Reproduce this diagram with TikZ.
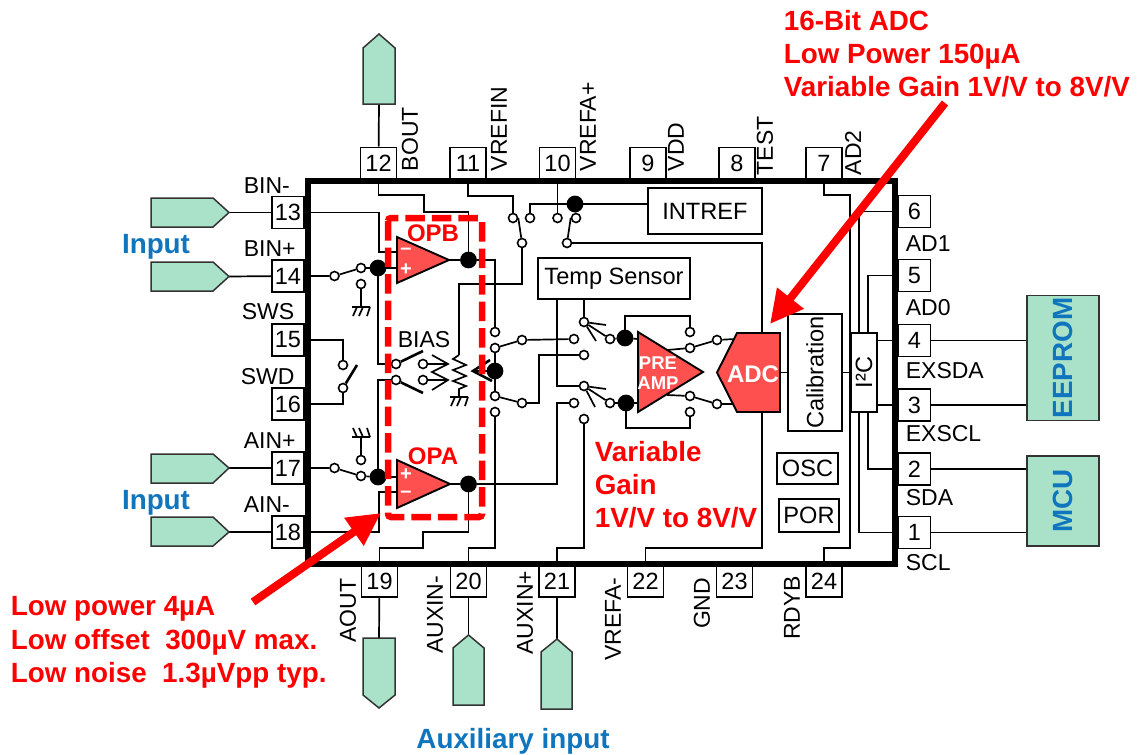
\documentclass[tikz,border=0pt]{standalone}
\usepackage{fontspec}
\setmainfont{Liberation Sans}
\usetikzlibrary{arrows.meta}
\definecolor{tagfill}{HTML}{A9E2C8}
\definecolor{tagline}{HTML}{333333}
\definecolor{opfill}{HTML}{FF5050}
\definecolor{noteblue}{HTML}{0F75BD}
\begin{document}
\begin{tikzpicture}[x=1pt, y=-1pt, line width=1.7pt,
  chipframe/.style={rectangle, draw, line width=6.5pt, inner sep=0, minimum width=587pt, minimum height=383pt},
  pinv/.style={rectangle, draw, fill=white, inner sep=0, minimum width=36pt, minimum height=31pt, font=\fontsize{23.5}{27}\selectfont},
  pinh/.style={rectangle, draw, fill=white, inner sep=0, minimum width=32pt, minimum height=32pt, font=\fontsize{23.5}{27}\selectfont},
  block/.style={rectangle, draw, fill=white, inner sep=0, font=\fontsize{23.6}{27}\selectfont},
  sidebox/.style={rectangle, draw=tagline, fill=tagfill, inner sep=0, text=noteblue, font=\fontsize{27.8}{33}\selectfont\bfseries},
  plain/.style={inner sep=0, font=\fontsize{23}{27}\selectfont},
  uplabel/.style={plain, rotate=90, anchor=west},
  downlabel/.style={plain, rotate=90, anchor=east},
  bluenote/.style={inner sep=0, text=noteblue, font=\fontsize{27.8}{33}\selectfont\bfseries},
  rednote/.style={inner sep=0, anchor=base west, text=red, font=\fontsize{27.8}{33}\selectfont\bfseries},
  oplabel/.style={inner sep=0, text=red, font=\fontsize{24}{27}\selectfont\bfseries},
  whitelabel/.style={inner sep=0, text=white, font=\fontsize{18.5}{22}\selectfont\bfseries},
  signlabel/.style={inner sep=0, text=white, font=\fontsize{20}{20}\selectfont\bfseries},
  blade/.style={line width=2.6pt},
  tag/.style={draw=tagline, fill=tagfill, line width=1.5pt},
  amp/.style={draw, fill=opfill, line width=1.9pt, line join=miter},
  bigarrow/.style={draw=red, line width=8pt, -{Triangle[length=33pt, width=32pt]}},
  groundmark/.pic={\draw (-9,0) -- (9,0) (-4,0) -- (-8,9) (2,0) -- (-2,9) (9,0) -- (6,9);}]
\def\swpoint{node [circle, draw, fill=white, inner sep=0, minimum size=9pt, line width=1.6pt] }
\def\jpoint{node [circle, draw, fill, inner sep=0, minimum size=15pt] }
\useasboundingbox (0,0) rectangle (1138,755);

% package and pins
\node [chipframe] (chip) at (601.5,372.5) {};
\node [pinv] (pin12) at (378.5,163) {12};
\node [pinv] (pin11) at (468,163) {11};
\node [pinv] (pin10) at (557.5,163) {10};
\node [pinv] (pin9) at (648,163) {9};
\node [pinv] (pin8) at (737,163) {8};
\node [pinv] (pin7) at (824,163) {7};
\node [pinh] (pin6) at (914.5,211.5) {6};
\node [pinh] (pin5) at (914.5,275.5) {5};
\node [pinh] (pin4) at (914.5,340.5) {4};
\node [pinh] (pin3) at (914.5,405) {3};
\node [pinh] (pin2) at (914.5,469) {2};
\node [pinh] (pin1) at (914.5,532.5) {1};
\node [pinh] (pin13) at (288,212.5) {13};
\node [pinh] (pin14) at (288,276) {14};
\node [pinh] (pin15) at (288,340) {15};
\node [pinh] (pin16) at (288,404) {16};
\node [pinh] (pin17) at (288,468) {17};
\node [pinh] (pin18) at (288,532) {18};
\node [pinv] (pin19) at (379.5,581.5) {19};
\node [pinv] (pin20) at (468.5,581.5) {20};
\node [pinv] (pin21) at (557,581.5) {21};
\node [pinv] (pin22) at (645.5,581.5) {22};
\node [pinv] (pin23) at (734.5,581.5) {23};
\node [pinv] (pin24) at (824,581.5) {24};

\node [uplabel] (lbout) at (410,172) {BOUT};
\node [uplabel] (lvrefin) at (499,172) {VREFIN};
\node [uplabel] (lvrefap) at (588,172) {VREFA+};
\node [uplabel] (lvdd) at (676,172) {VDD};
\node [uplabel] (ltest) at (765,176) {TEST};
\node [uplabel] (lad2) at (853,176) {AD2};
\node [plain, anchor=west] (lad1) at (905,244) {AD1};
\node [plain, anchor=west] (lad0) at (905,308) {AD0};
\node [plain, anchor=west] (lexsda) at (905,371) {EXSDA};
\node [plain, anchor=west] (lexscl) at (905,434) {EXSCL};
\node [plain, anchor=west] (lsda) at (905,498) {SDA};
\node [plain, anchor=west] (lscl) at (905,563) {SCL};
\node [plain, anchor=west] (lbinm) at (243,186) {BIN-};
\node [plain, anchor=west] (lbinp) at (243,249) {BIN+};
\node [plain, anchor=west] (lsws) at (241,312) {SWS};
\node [plain, anchor=west] (lswd) at (240,377) {SWD};
\node [plain, anchor=west] (lainp) at (243,441) {AIN+};
\node [plain, anchor=west] (lainm) at (243,505) {AIN-};
\node [downlabel] (laout) at (348,578) {AOUT};
\node [downlabel] (lauxm) at (435,575) {AUXIN-};
\node [downlabel] (lauxp) at (525,570) {AUXIN+};
\node [downlabel] (lvrefam) at (613,577) {VREFA-};
\node [downlabel] (lgnd) at (702,577) {GND};
\node [downlabel] (lrdyb) at (792,575) {RDYB};

% outside tags
\coordinate (tag12) at (379,104);
\coordinate (tag13) at (229,212.5);
\coordinate (tag14) at (229,276.5);
\coordinate (tag17) at (229,468);
\coordinate (tag18) at (229,532);
\coordinate (tag19) at (379,638);
\coordinate (tag20) at (468.5,635);
\coordinate (tag21) at (557,639);
\draw (pin12) -- (tag12);
\draw (pin13) -- (tag13);
\draw (pin14) -- (tag14);
\draw (pin17) -- (tag17);
\draw (pin18) -- (tag18);
\draw (pin19) -- (tag19);
\draw (pin20) -- (tag20);
\draw (pin21) -- (tag21);
\draw [tag] (tag12) -- (363,104) -- (363,48) -- (379,34) -- (395,48) -- (395,104) -- cycle;
\draw [tag] (tag13) -- (213,198) -- (151,198) -- (151,227) -- (213,227) -- cycle;
\draw [tag] (tag14) -- (213,262) -- (151,262) -- (151,291) -- (213,291) -- cycle;
\draw [tag] (tag17) -- (213,454) -- (151,454) -- (151,483) -- (213,483) -- cycle;
\draw [tag] (tag18) -- (213,517) -- (151,517) -- (151,546) -- (213,546) -- cycle;
\draw [tag] (tag19) -- (363,638) -- (363,695) -- (379,708) -- (395,695) -- (395,638) -- cycle;
\draw [tag] (tag20) -- (453,648) -- (453,705) -- (484,705) -- (484,648) -- cycle;
\draw [tag] (tag21) -- (541,652) -- (541,709) -- (572,709) -- (572,652) -- cycle;
\node [sidebox, rotate=90, minimum width=125pt, minimum height=72pt] (eeprom) at (1063,358) {EEPROM};
\node [sidebox, rotate=90, minimum width=90pt, minimum height=72pt] (mcu) at (1063,501) {MCU};
\draw (pin4) -- (eeprom.north |- pin4);
\draw (pin3) -- (eeprom.north |- pin3);
\draw (pin2) -- (mcu.north |- pin2);
\draw (pin1) -- (mcu.north |- pin1);

% blocks
\node [block, minimum width=114pt, minimum height=46pt] (intref) at (705,211) {INTREF};
\node [block, minimum width=152pt, minimum height=41pt] (temp) at (614,278.5) {Temp Sensor};
\node [block, rotate=90, minimum width=117pt, minimum height=54pt] (calib) at (815,372.5) {Calibration};
\node [block, rotate=90, minimum width=79pt, minimum height=26pt] (i2c) at (864,372.5) {I²C};
\node [block, minimum width=61pt, minimum height=31pt] (osc) at (807.5,468.5) {OSC};
\node [block, minimum width=60pt, minimum height=33pt] (por) at (809,515.5) {POR};

% switch terminals
\draw (513,218) \swpoint (s1) {};
\draw (530,218) \swpoint (s2) {};
\draw (557.5,218) \swpoint (s3) {};
\draw (576,218) \swpoint (s4) {};
\draw (522,243) \swpoint (s5) {};
\draw (567,243) \swpoint (s6) {};
\draw (495,332) \swpoint (s7) {};
\draw (495,348) \swpoint (s8) {};
\draw (522,340) \swpoint (s9) {};
\draw (574,339) \swpoint (s10) {};
\draw (584,355) \swpoint (s11) {};
\draw (584,322) \swpoint (s12) {};
\draw (610,339) \swpoint (s13) {};
\draw (690,332) \swpoint (s14) {};
\draw (690,348) \swpoint (s15) {};
\draw (717,340) \swpoint (s16) {};
\draw (495,396) \swpoint (s17) {};
\draw (495,412) \swpoint (s18) {};
\draw (522,403) \swpoint (s19) {};
\draw (574,403) \swpoint (s20) {};
\draw (584,419) \swpoint (s21) {};
\draw (584,386) \swpoint (s22) {};
\draw (610,403) \swpoint (s23) {};
\draw (690,396) \swpoint (s24) {};
\draw (690,412) \swpoint (s25) {};
\draw (717,404) \swpoint (s26) {};
\draw (334.5,276) \swpoint (s27) {};
\draw (361,268) \swpoint (s28) {};
\draw (361,284) \swpoint (s29) {};
\draw (334.5,468) \swpoint (s30) {};
\draw (361,476) \swpoint (s31) {};
\draw (361,460) \swpoint (s32) {};
\draw (343,365) \swpoint (s33) {};
\draw (343,388) \swpoint (s34) {};
\draw (396,364) \swpoint (s35) {};
\draw (396,380) \swpoint (s36) {};
\draw (423,364) \swpoint (s37) {};
\draw (423,380) \swpoint (s38) {};

% junctions
\draw (468.5,260) \jpoint (j1) {};
\draw (575,204) \jpoint (j2) {};
\draw (378,268) \jpoint (j3) {};
\draw (378,477) \jpoint (j4) {};
\draw (468.5,484) \jpoint (j5) {};
\draw (495,371) \jpoint (j6) {};
\draw (625,338) \jpoint (j7) {};
\draw (626,403) \jpoint (j8) {};

% ports of amplifiers and adc
\coordinate (opbm) at (397,252);
\coordinate (opbp) at (397,268);
\coordinate (opbt) at (449,260);
\coordinate (opap) at (397,477);
\coordinate (opam) at (397,492);
\coordinate (opat) at (450,484);
\coordinate (pain) at (638,339);
\coordinate (paip) at (638,403);
\coordinate (paou) at (667,350);
\coordinate (paod) at (667,395);
\coordinate (adcu) at (735,339);
\coordinate (adcd) at (735,404);
\coordinate (adct) at (762,333);
\coordinate (adcb) at (762,412);
\coordinate (adcr) at (780,372.5);
\coordinate (rest) at (459,355);
\coordinate (resb) at (459,389);
\coordinate (gnd1) at (361,307);
\coordinate (gnd2) at (361,437);
\coordinate (gnd3) at (459,397);
\coordinate (b1) at (357,365);
\coordinate (b2) at (423,351);
\coordinate (b3) at (423,393);
\coordinate (tapl) at (448,364);
\coordinate (tapm) at (448,380);
\coordinate (tapr) at (473,371);

% wires
\draw (chip.north -| pin12) -- (378.5,195) -- (424,195) -- (424,212) -- (468.5,212) -- (j1);
\draw (chip.north -| pin11) -- (468,196) -- (513,196) -- (s1);
\draw (chip.north -| pin10) -- (s3);
\draw (chip.north -| pin7) -- (824,195) -- (850,195) -- (850,548) -- (824,548) -- (chip.south -| pin24);
\draw (s2) -- (530,204) -- (j2);
\draw (j2) -- (intref.west |- j2);
\draw (j2) -- (s4);
\draw (s1.east) -- (s5);
\draw (s4.west) -- (s6);
\draw (s5) -- (522,284) -- (459,284) -- (rest);
\draw (s6) -- (762,243) -- (adct);
\draw (opbt) -- (j1);
\draw (j1) -- (495,260) -- (s7);
\draw (chip.west |- pin13) -- (379,212.5) -- (379,252) -- (opbm);
\draw (chip.west |- pin14) -- (s27);
\draw (s27) -- (s28);
\draw (s28) -- (j3);
\draw (j3) -- (opbp);
\draw (s29) -- (gnd1);
\draw (j3) -- (378,364) -- (s35);
\draw (chip.west |- pin15) -- (343,340) -- (s33);
\draw (chip.west |- pin16) -- (343,404) -- (s34);
\draw [blade] (s34) -- (b1);
\draw (j4) -- (378,380) -- (s36);
\draw [blade] (s35) -- (b2);
\draw [blade] (s36) -- (b3);
\draw (s37) -- (tapl);
\draw (s38) -- (tapm);
\draw (432,355) -- (tapl) -- (432,372) -- (tapm) -- (432,390);
\draw (rest) -- (453,359) -- (466,365) -- (453,370) -- (466,376) -- (453,381) -- (466,386) -- (resb) -- (gnd3);
\draw (j6) -- (tapr);
\draw [blade] (490,360) -- (tapr) -- (492,381);
\draw (j6) -- (s8);
\draw (j6) -- (s17);
\draw (s8) -- (s9);
\draw (s17) -- (s19);
\draw (s9) -- (s10);
\draw (s19) -- (539,403) -- (539,355) -- (s11);
\draw (temp.south -| 557,0) -- (557,386) -- (s22);
\draw (temp.south -| s12) -- (s12);
\draw (s12) -- (s13);
\draw (s12) -- (606,325);
\draw (s12) -- (596,341);
\draw (s22) -- (s23);
\draw (s22) -- (606,389);
\draw (s22) -- (595,407);
\draw (s13) -- (j7);
\draw (s23) -- (j8);
\draw (j7) -- (pain);
\draw (j8) -- (paip);
\draw (j7) -- (625,316) -- (690,316) -- (s14);
\draw (j8) -- (626,428) -- (690,428) -- (s25);
\draw (paou) -- (s15);
\draw (paod) -- (s24);
\draw (s15) -- (s16);
\draw (s24) -- (s26);
\draw (s16) -- (adcu);
\draw (s26) -- (adcd);
\draw (s20) -- (557,403) -- (557,484) -- (j5);
\draw (j5) -- (opat);
\draw (j5) -- (468.5,532) -- (423,532) -- (423,548) -- (379.5,548) -- (chip.south -| pin19);
\draw (chip.south -| pin20) -- (468.5,548) -- (495,548) -- (s18);
\draw (chip.south -| pin21) -- (557,548) -- (584,548) -- (s21);
\draw (chip.south -| pin22) -- (645.5,548) -- (762,548) -- (adcb);
\draw (chip.west |- pin17) -- (s30);
\draw (s30) -- (s31);
\draw (s31) -- (j4);
\draw (j4) -- (opap);
\draw (s32) -- (gnd2);
\draw (chip.west |- pin18) -- (379,532) -- (379,492) -- (opam);
\draw (adcr) -- (calib);
\draw (calib) -- (i2c);
\draw (i2c.east -| 859,0) -- (859,211.5) -- (chip.east |- pin6);
\draw (i2c.east -| 868,0) -- (868,275.5) -- (chip.east |- pin5);
\draw (i2c.west -| 859,0) -- (859,532.5) -- (chip.east |- pin1);
\draw (i2c.west -| 868,0) -- (868,469) -- (chip.east |- pin2);
\draw (i2c.south |- pin4) -- (chip.east |- pin4);
\draw (i2c.south |- pin3) -- (chip.east |- pin3);
\pic at (gnd1) {groundmark};
\pic [yscale=-1] at (gnd2) {groundmark};
\pic at (gnd3) {groundmark};

% dashed box, amplifiers
\draw [red, line width=6.5pt, dash pattern=on 19.5pt off 7pt, rounded corners=3pt] (388,218) rectangle (482,517);
\draw [amp] (397,237) -- (opbt) -- (397,283) -- cycle;
\draw [amp] (397,460) -- (opat) -- (397,508) -- cycle;
\draw [amp] (638,332) -- (703,372) -- (638,412) -- cycle;
\draw [amp] (737,333) -- (780,333) -- (780,412) -- (737,412) -- (717,372.5) -- cycle;
\node [whitelabel] (lpre) at (658,363) {PRE};
\node [whitelabel] (lamp) at (658,383) {AMP};
\node [inner sep=0, text=white, font=\fontsize{24}{27}\selectfont\bfseries] (ladc) at (753,374) {ADC};
\node [oplabel] (lopb) at (433,233) {OPB};
\node [oplabel] (lopa) at (433,456) {OPA};
\node [signlabel] (opbmi) at (406,251) {–};
\node [signlabel] (opbpl) at (406,269.5) {+};
\node [signlabel] (opapl) at (406,474.5) {+};
\node [signlabel] (opami) at (406,494) {–};
\node [plain] (lbias) at (424,340) {BIAS};

% notes and arrows
\node [bluenote] (in1) at (156,247) {Input};
\node [bluenote] (in2) at (156,503) {Input};
\node [bluenote] (in3) at (513,741) {Auxiliary input};
\node [rednote] (n1) at (783,30) {16-Bit ADC};
\node [rednote] (n2) at (783,63) {Low Power 150µA};
\node [rednote] (n3) at (783,96) {Variable Gain 1V/V to 8V/V};
\node [rednote] (n4) at (10,615) {Low power 4µA};
\node [rednote] (n5) at (10,649) {Low offset\ \ 300µV max.};
\node [rednote] (n6) at (10,682) {Low noise\ \ 1.3µVpp typ.};
\node [rednote] (n7) at (594,461) {Variable};
\node [rednote] (n8) at (594,494) {Gain};
\node [rednote] (n9) at (594,527) {1V/V to 8V/V};
\coordinate (a1s) at (945,103);
\coordinate (a1t) at (770,324);
\coordinate (a2s) at (253,602);
\coordinate (a2t) at (381,513);
\draw [bigarrow] (a1s) -- (a1t);
\draw [bigarrow] (a2s) -- (a2t);

\end{tikzpicture}
\end{document}
